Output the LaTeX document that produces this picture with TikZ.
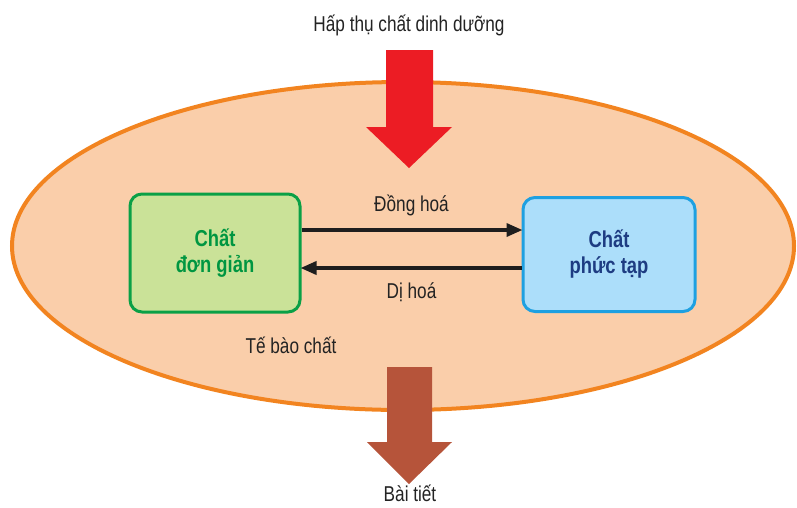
\documentclass[tikz,border=0pt]{standalone}
\usepackage{fontspec}
\setmainfont[FakeStretch=0.80]{Liberation Sans}
\usetikzlibrary{arrows.meta}
\definecolor{cellfill}{RGB}{250,206,170}
\definecolor{cellline}{RGB}{242,132,32}
\definecolor{simplefill}{RGB}{202,226,152}
\definecolor{simpleline}{RGB}{10,160,70}
\definecolor{simpletext}{RGB}{0,150,65}
\definecolor{complexfill}{RGB}{172,222,250}
\definecolor{complexline}{RGB}{30,160,225}
\definecolor{complextext}{RGB}{30,60,130}
\definecolor{intake}{RGB}{236,28,36}
\definecolor{excrete}{RGB}{182,84,58}
\definecolor{linkdark}{RGB}{30,30,30}
\definecolor{labeltext}{RGB}{35,35,35}
\tikzset{
  substance/.style={draw, line width=3pt, rounded corners=12pt,
    align=center, inner sep=0pt,
    font=\fontsize{23}{26}\selectfont\bfseries},
  label/.style={text=labeltext, font=\fontsize{21.5}{24}\selectfont, inner sep=0pt},
  link/.style={draw=linkdark, line width=3.5pt,
    -{Triangle[length=16pt,width=13pt]}, shorten >=-1pt},
}
\begin{document}
\begin{tikzpicture}[x=1pt,y=-1pt]
  \useasboundingbox (0,0) rectangle (797,507);
  % cytoplasm
  \draw[fill=cellfill, draw=cellline, line width=4pt] (403,246) ellipse [x radius=391, y radius=164];
  % intake arrow
  \fill[intake] (386,50) -- (433,50) -- (433,127) -- (452,127) -- (409,168)
    -- (366,127) -- (386,127) -- cycle;
  % excretion arrow
  \fill[excrete] (387,367) -- (432,367) -- (432,442) -- (452,442) -- (409,484)
    -- (367,442) -- (387,442) -- cycle;
  % substances
  \node[substance, fill=simplefill, draw=simpleline, text=simpletext,
        minimum width=170pt, minimum height=118pt] (simple) at (215,253) {Chất\\đơn giản};
  \node[substance, fill=complexfill, draw=complexline, text=complextext,
        minimum width=172pt, minimum height=114pt] (complex) at (609,254.5) {Chất\\phức tạp};
  % anabolism / catabolism
  \draw[link] ([yshift=23pt]simple.east) -- ([yshift=24.5pt]complex.west)
    node[label, midway, above=12pt] (ana) {Đồng hoá};
  \draw[link] ([yshift=-13.5pt]complex.west) -- ([yshift=-15pt]simple.east)
    node[label, midway, below=13pt] (cata) {Dị hoá};
  % texts
  \node[label] (intaketext) at (409,25) {Hấp thụ chất dinh dưỡng};
  \node[label] (cyto) at (291,345) {Tế bào chất};
  \node[label] (excr) at (410,493) {Bài tiết};
\end{tikzpicture}
\end{document}
